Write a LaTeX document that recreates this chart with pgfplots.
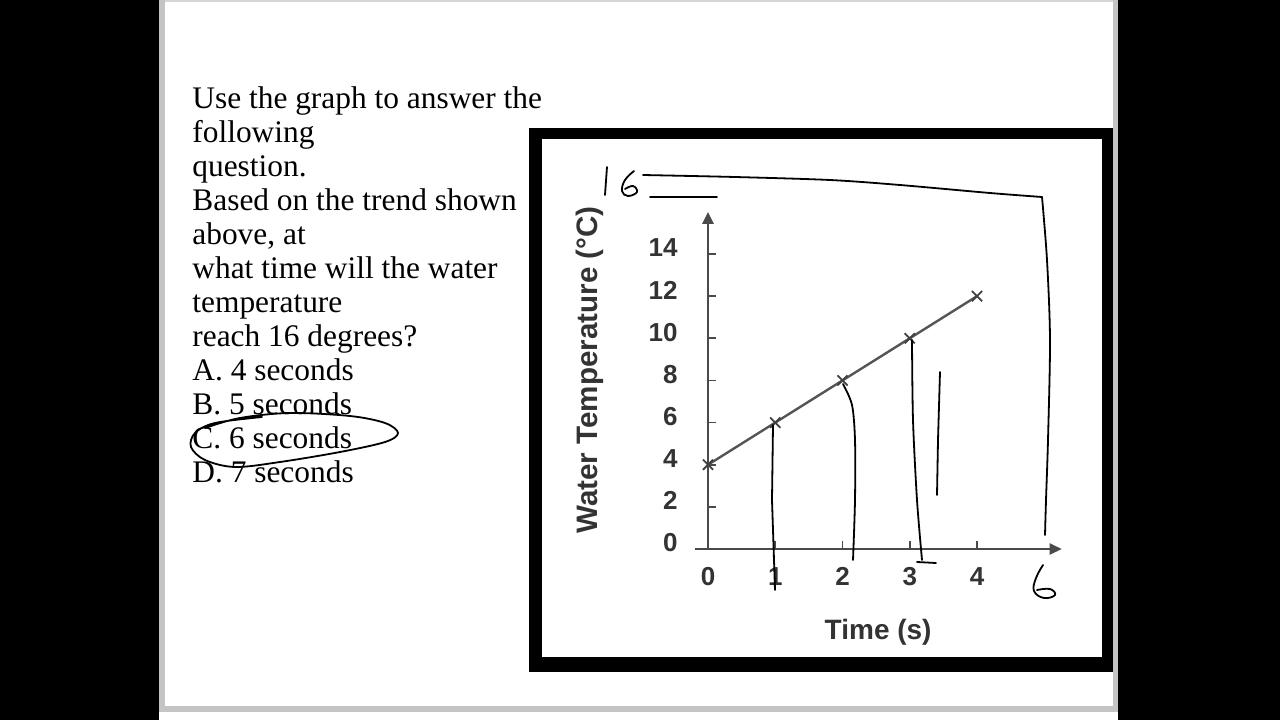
\documentclass[border=0pt]{standalone}
\usepackage{pgfplots}
\pgfplotsset{compat=1.18}
\usetikzlibrary{arrows.meta}
\usepackage{fontspec}
\setmainfont{Liberation Serif}
\setsansfont{Liberation Sans}
\definecolor{axgray}{HTML}{4A4A4A}
\definecolor{linegray}{HTML}{555555}
\definecolor{edgegray}{HTML}{C4C4C4}
\begin{document}
\begin{tikzpicture}[x=0.5pt,y=0.5pt]
\useasboundingbox (0,0) rectangle (1280,720);
\begin{scope}[shift={(0,360pt)},yscale=-1]
 \fill[white] (0,0) rectangle (1280,720);
 \fill[black] (0,0) rectangle (159,720);
 \fill[edgegray] (159,0) rectangle (165,712);
 \fill[black] (1118,0) rectangle (1280,720);
 \fill[edgegray] (1113,0) rectangle (1118,712);
 \fill[edgegray!70] (165,0) rectangle (1113,2);
 \fill[edgegray] (165,706) rectangle (1113,712);
 \fill[black] (529,128) rectangle (1113,672);
 \fill[white] (542,139) rectangle (1102,657);
 \begin{scope}[every node/.style={anchor=base west, inner sep=0pt, font=\fontsize{15.7}{17}\selectfont}]
 \node at (192,108) {Use the graph to answer the};
 \node at (192,142) {following};
 \node at (192,176) {question.};
 \node at (192,210) {Based on the trend shown};
 \node at (192,244) {above, at};
 \node at (192,278) {what time will the water};
 \node at (192,312) {temperature};
 \node at (192,346) {reach 16 degrees?};
 \node at (192,380) {A. 4 seconds};
 \node at (192,414) {B. 5 seconds};
 \node at (192,448) {C. 6 seconds};
 \node at (192,482) {D. 7 seconds};
 \end{scope}
\end{scope}

\begin{axis}[
  at={(354pt,85.5pt)}, anchor=origin,
  x=33.625pt, y=10.535pt,
  xmin=-0.2, xmax=5.26, ymin=0, ymax=16,
  axis lines=middle,
  axis line style={axgray, line width=1.1pt, -{Triangle[length=6pt,width=5.5pt]}},
  hide obscured x ticks=false, hide obscured y ticks=false,
  xtick={0,1,2,3,4}, ytick={0,2,4,6,8,10,12,14},
  tick align=inside, major tick length=4pt,
  tick style={axgray, line width=0.9pt},
  /pgf/number format/assume math mode=true,
  ticklabel style={font=\sffamily\bfseries\fontsize{13}{13}\selectfont, text=black!80},
  xticklabel style={anchor=center, inner sep=0pt, yshift=-13.8pt},
  yticklabel style={anchor=east, inner sep=0pt, xshift=-15pt, yshift=3pt},
  xlabel={Time (s)},
  ylabel={Water Temperature (°C)},
  label style={font=\sffamily\bfseries\fontsize{14}{14}\selectfont, text=black!80},
  xlabel style={at={(axis description cs:0.5,-0.247)}, anchor=center},
  ylabel style={at={(axis description cs:-0.285,0.531)}, anchor=center, rotate=90, font=\sffamily\bfseries\fontsize{14.8}{15}\selectfont},
  clip=false,
]
\addplot[linegray, line width=1.2pt, mark=x, mark size=3.6pt,
  mark options={black!75, line width=0.9pt}]
  coordinates {(0,4) (1,6) (2,8) (3,10) (4,12)};
\end{axis}

\begin{scope}[shift={(0,360pt)},yscale=-1, line width=0.9pt, black, line cap=round, line join=round]
 % handwritten 16
 \draw (607,167) -- (605,195);
 \draw plot[smooth, tension=0.7] coordinates {(634,171) (625,180) (622,191) (628,196) (637,192) (633,186) (625,189)};
 \draw (650,197) -- (717,197);
 \draw plot[smooth, tension=0.5] coordinates {(643,175) (735,177) (830,180) (900,185) (990,193) (1042,197)};
 \draw plot[smooth, tension=0.5] coordinates {(1042,197) (1047,260) (1050,340) (1048,440) (1046,500) (1045,535)};
 % handwritten 6
 \draw plot[smooth, tension=0.7] coordinates {(1043,565) (1036,578) (1034,591) (1044,598) (1055,595) (1050,589) (1037,590)};
 % vertical drops
 \draw (773,425) -- (772,500) -- (775,590);
 \draw plot[smooth, tension=0.5] coordinates {(843,384) (852,405) (855,440) (855,500) (853,560)};
 \draw plot[smooth, tension=0.5] coordinates {(912,340) (913,420) (917,500) (922,560)};
 \draw (917,562) -- (936,563);
 \draw (940,372) -- (938,440) -- (937,495);
 % ellipse round answer C
 \draw plot[smooth, tension=0.55] coordinates {(205,428) (240,418) (290,413) (350,416) (385,423) (398,433) (385,442) (340,452) (280,462) (235,467) (205,460) (191,447) (195,433) (215,423) (262,417)};
\end{scope}
\end{tikzpicture}
\end{document}
